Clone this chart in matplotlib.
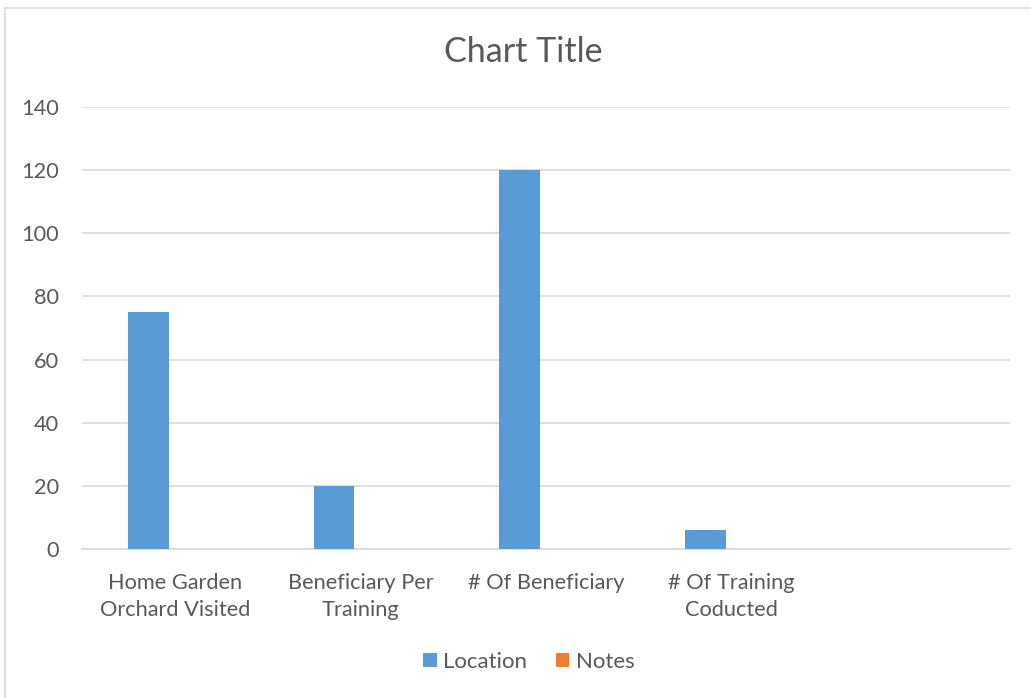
import matplotlib.pyplot as plt
from matplotlib.patches import Rectangle
import numpy as np

plt.rcParams['font.family'] = ['Lato', 'DejaVu Sans']

categories = ['Home Garden\nOrchard Visited', 'Beneficiary Per\nTraining',
              '# Of Beneficiary', '# Of Training\nCoducted', '']
location = [75, 20, 120, 6, 0]
notes = [0, 0, 0, 0, 0]
series_names = ['Location', 'Notes']
colors = ['#5B9BD5', '#ED7D31']
text_col = '#595959'

W, H = 1031, 698
fig = plt.figure(figsize=(W / 100, H / 100), dpi=100)
# chart border (only top/left visible in reference)
fig.patches.append(Rectangle((5 / W, -0.1), 1.2, 1 - 8 / H + 0.1, transform=fig.transFigure,
                             fill=False, edgecolor='#D9D9D9', linewidth=1.2))

ax = fig.add_axes([82 / W, 1 - 549 / H, (1010 - 82) / W, (549 - 107) / H])
x = np.arange(len(categories))
bw = 0.22
ax.bar(x - 0.142, location, width=bw, color=colors[0], label=series_names[0], zorder=3)
ax.bar(x - 0.142 + bw, notes, width=bw, color=colors[1], label=series_names[1], zorder=3)

ax.set_xlim(-0.5, len(categories) - 0.5)
ax.set_ylim(0, 140)
ax.set_yticks(np.arange(0, 141, 20))
ax.set_xticks(x)
ax.set_xticklabels(categories, fontsize=15.7, color=text_col, linespacing=1.45)
ax.tick_params(axis='y', labelsize=15.7, labelcolor=text_col, length=0, pad=16.5)
ax.tick_params(axis='x', length=0, pad=17)
ax.grid(axis='y', color='#D9D9D9', linewidth=1.2, zorder=0)
for s in ['top', 'right', 'left']:
    ax.spines[s].set_visible(False)
ax.spines['bottom'].set_color('#D9D9D9')
ax.spines['bottom'].set_linewidth(1.2)

fig.text(523 / W, 1 - 52 / H, 'Chart Title', ha='center', va='center', fontsize=24.5, color=text_col)

fig.legend(loc='center', bbox_to_anchor=(529 / W, 1 - 662 / H), ncol=2, frameon=False,
           fontsize=16, labelcolor=text_col, handlelength=0.6, handleheight=0.6,
           handletextpad=0.3, columnspacing=1.3)

fig.savefig('out.png', dpi=100)
